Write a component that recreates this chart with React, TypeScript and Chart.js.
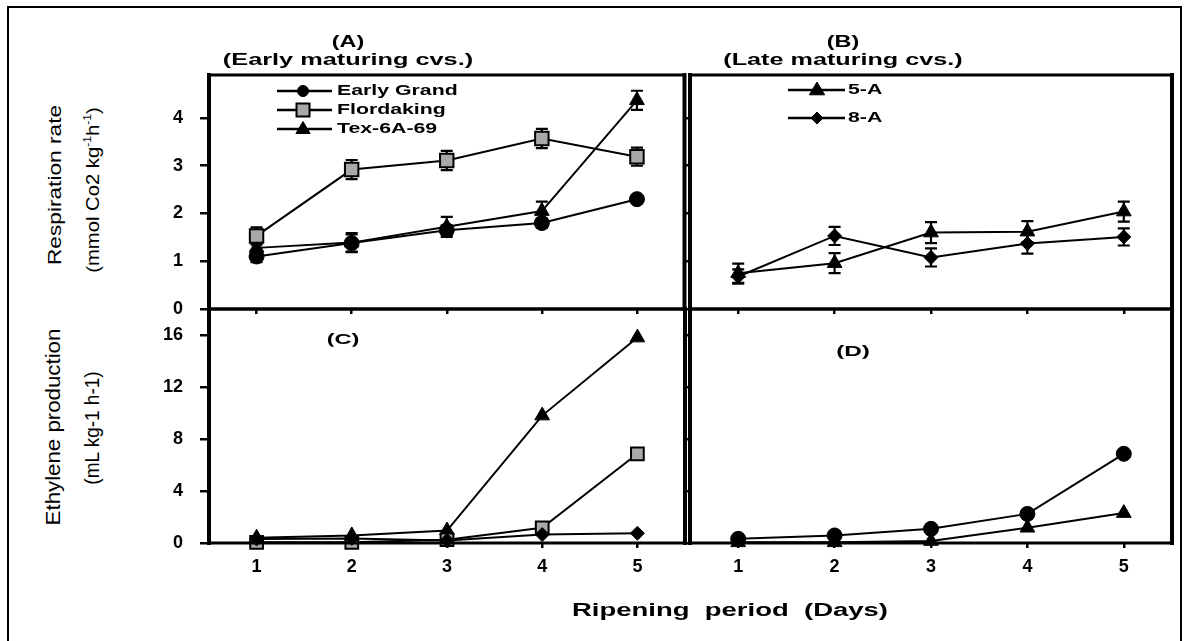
import React, { useEffect, useLayoutEffect, useRef } from 'react';
import { Chart, registerables } from 'chart.js';

Chart.register(...registerables);

const FONT = "'Liberation Sans', Arial, Helvetica, sans-serif";

// ---------- data ----------
const days = [1, 2, 3, 4, 5];
const respTicks = [0, 1, 2, 3, 4];
const ethTicks = [0, 4, 8, 12, 16];

// (A) respiration, early maturing cultivars
const respEarlyGrand = [1.1, 1.38, 1.65, 1.8, 2.3];
const respEarlyGrandErr = [0.12, 0.18, 0.1, 0.1, 0.08];
const respFlordaking = [1.53, 2.92, 3.11, 3.57, 3.19];
const respFlordakingErr = [0.18, 0.2, 0.2, 0.2, 0.19];
const respTex = [1.28, 1.39, 1.72, 2.05, 4.37];
const respTexErr = [0.1, 0.2, 0.21, 0.2, 0.2];

// (B) respiration, late maturing cultivars
const resp5A = [0.75, 0.96, 1.6, 1.62, 2.04];
const resp5AErr = [0.2, 0.21, 0.22, 0.22, 0.21];
const resp8A = [0.68, 1.53, 1.08, 1.37, 1.51];
const resp8AErr = [0.15, 0.19, 0.19, 0.21, 0.18];

// (C) ethylene, early maturing cultivars
const ethEarlyGrand = [0.3, 0.35, 0.2, 0.65, 0.75];
const ethFlordaking = [0.05, 0.05, 0.25, 1.17, 6.86];
const ethTex = [0.4, 0.58, 0.96, 9.8, 15.8];

// (D) ethylene, late maturing cultivars
const eth5A = [0.05, 0.05, 0.15, 1.17, 2.3];
const eth8A = [0.32, 0.58, 1.09, 2.24, 6.86];

const GRAY = '#a9a9a9';

function series(label: string, values: number[], errors: number[] | null, style: string, r: number, fill: string) {
  return {
    label,
    data: days.map((d, i) => ({ x: d, y: values[i] })),
    errors,
    pointStyle: style,
    pointRadius: r,
    pointBackgroundColor: fill,
    pointBorderColor: '#000',
    pointBorderWidth: style === 'rect' ? 2 : 1,
    borderColor: '#000',
    borderWidth: 2,
    fill: false,
    tension: 0,
    clip: false,
  };
}

type LegendSpec = { lineStart: number; lineEnd: number; marker: number; text: number; rows: number[]; sizes: number[] };

type PanelSpec = {
  left: number; top: number; right: number; bottom: number;
  yMax: number; yTicks: number[]; yLabels: boolean; xLabels: boolean;
  datasets: any[]; legend?: LegendSpec;
};

const panels: PanelSpec[] = [
  {
    left: 209, top: 75, right: 686, bottom: 309, yMax: 4.9, yTicks: respTicks, yLabels: true, xLabels: false,
    datasets: [
      series('Early Grand', respEarlyGrand, respEarlyGrandErr, 'circle', 7.5, '#000'),
      series('Flordaking', respFlordaking, respFlordakingErr, 'rect', 9.5, GRAY),
      series('Tex-6A-69', respTex, respTexErr, 'triangle', 8.5, '#000'),
    ],
    legend: { lineStart: 68, lineEnd: 123, marker: 94, text: 128, rows: [16, 35, 54], sizes: [5.5, 6.5, 7.5] },
  },
  {
    left: 690, top: 75, right: 1172, bottom: 309, yMax: 4.9, yTicks: respTicks, yLabels: false, xLabels: false,
    datasets: [
      series('5-A', resp5A, resp5AErr, 'triangle', 8.5, '#000'),
      series('8-A', resp8A, resp8AErr, 'rectRot', 7, '#000'),
    ],
    legend: { lineStart: 98, lineEnd: 155, marker: 127, text: 158, rows: [15, 43], sizes: [8, 6] },
  },
  {
    left: 209, top: 309, right: 686, bottom: 543, yMax: 18, yTicks: ethTicks, yLabels: true, xLabels: true,
    datasets: [
      series('Early Grand', ethEarlyGrand, null, 'rectRot', 7, '#000'),
      series('Flordaking', ethFlordaking, null, 'rect', 9, GRAY),
      series('Tex-6A-69', ethTex, null, 'triangle', 8.5, '#000'),
    ],
  },
  {
    left: 690, top: 309, right: 1172, bottom: 543, yMax: 18, yTicks: ethTicks, yLabels: false, xLabels: true,
    datasets: [
      series('8-A', eth8A, null, 'circle', 7.5, '#000'),
      series('5-A', eth5A, null, 'triangle', 8.5, '#000'),
    ],
  },
];

function geom(p: PanelSpec) {
  const yW = p.yLabels ? 80 : 12;
  const padT = 32;
  const padR = 10;
  const xH = p.xLabels ? 60 : 34;
  return {
    yW, padT, padR, xH,
    canvasLeft: p.left - yW,
    canvasTop: p.top - padT,
    width: yW + (p.right - p.left) + padR,
    height: padT + (p.bottom - p.top) + xH,
  };
}

function markerPath(ctx: CanvasRenderingContext2D, style: string, x: number, y: number, r: number) {
  ctx.beginPath();
  if (style === 'circle') {
    ctx.arc(x, y, r, 0, Math.PI * 2);
  } else if (style === 'rect') {
    ctx.rect(x - r, y - r, 2 * r, 2 * r);
  } else if (style === 'triangle') {
    ctx.moveTo(x, y - r);
    ctx.lineTo(x + r * 0.95, y + r * 0.6);
    ctx.lineTo(x - r * 0.95, y + r * 0.6);
    ctx.closePath();
  } else {
    ctx.moveTo(x, y - r);
    ctx.lineTo(x + r, y);
    ctx.lineTo(x, y + r);
    ctx.lineTo(x - r, y);
    ctx.closePath();
  }
}

const errorBarsPlugin = {
  id: 'errorBars',
  beforeDatasetsDraw(chart: any) {
    const ctx = chart.ctx as CanvasRenderingContext2D;
    const xs = chart.scales.x;
    const ys = chart.scales.y;
    chart.data.datasets.forEach((ds: any) => {
      if (!ds.errors) return;
      ctx.save();
      ctx.strokeStyle = '#000';
      ctx.lineWidth = 2.2;
      ds.data.forEach((pt: any, i: number) => {
        const e = ds.errors[i];
        if (!e) return;
        const px = xs.getPixelForValue(pt.x);
        const y1 = ys.getPixelForValue(pt.y + e);
        const y2 = ys.getPixelForValue(pt.y - e);
        ctx.beginPath();
        ctx.moveTo(px, y1); ctx.lineTo(px, y2);
        ctx.moveTo(px - 6, y1); ctx.lineTo(px + 6, y1);
        ctx.moveTo(px - 6, y2); ctx.lineTo(px + 6, y2);
        ctx.stroke();
      });
      ctx.restore();
    });
  },
};

const framePlugin = {
  id: 'panelFrame',
  afterDraw(chart: any) {
    const ctx = chart.ctx as CanvasRenderingContext2D;
    const a = chart.chartArea;
    ctx.save();
    ctx.strokeStyle = '#000';
    ctx.lineCap = 'square';
    ctx.lineWidth = 3;
    ctx.beginPath();
    ctx.moveTo(a.left, a.top); ctx.lineTo(a.right, a.top);
    ctx.moveTo(a.left, a.bottom); ctx.lineTo(a.right, a.bottom);
    ctx.stroke();
    ctx.lineWidth = 4;
    ctx.beginPath();
    ctx.moveTo(a.left, a.top); ctx.lineTo(a.left, a.bottom);
    ctx.moveTo(a.right, a.top); ctx.lineTo(a.right, a.bottom);
    ctx.stroke();
    ctx.restore();
  },
};

function legendPlugin(spec?: LegendSpec) {
  return {
    id: 'panelLegend',
    afterDraw(chart: any) {
      if (!spec) return;
      const ctx = chart.ctx as CanvasRenderingContext2D;
      const a = chart.chartArea;
      chart.data.datasets.forEach((ds: any, i: number) => {
        const y = a.top + spec.rows[i];
        ctx.save();
        ctx.strokeStyle = '#000';
        ctx.lineWidth = 2.5;
        ctx.beginPath();
        ctx.moveTo(a.left + spec.lineStart, y);
        ctx.lineTo(a.left + spec.lineEnd, y);
        ctx.stroke();
        markerPath(ctx, ds.pointStyle, a.left + spec.marker, y, spec.sizes[i]);
        ctx.fillStyle = ds.pointBackgroundColor;
        ctx.fill();
        ctx.lineWidth = ds.pointStyle === 'rect' ? 2 : 1;
        ctx.stroke();
        ctx.fillStyle = '#000';
        ctx.font = `bold 14px ${FONT}`;
        ctx.textBaseline = 'middle';
        ctx.textAlign = 'left';
        ctx.translate(a.left + spec.text, y);
        ctx.scale(1.52, 1);
        ctx.fillText(ds.label, 0, 0);
        ctx.restore();
      });
    },
  };
}

function buildConfig(p: PanelSpec): any {
  const g = geom(p);
  const tickFont = { family: FONT, size: 18, weight: 'bold' as const };
  return {
    type: 'line',
    data: { datasets: p.datasets },
    options: {
      animation: false,
      responsive: false,
      maintainAspectRatio: false,
      events: [],
      layout: { padding: { left: 0, top: g.padT, right: g.padR, bottom: 0 } },
      plugins: { legend: { display: false }, tooltip: { enabled: false }, title: { display: false } },
      scales: {
        x: {
          type: 'linear',
          min: 0.5,
          max: 5.5,
          afterBuildTicks: (s: any) => { s.ticks = days.map((v) => ({ value: v })); },
          afterFit: (s: any) => { s.height = g.xH; },
          grid: { drawOnChartArea: false, drawTicks: true, tickLength: 5, color: '#000', lineWidth: 2.5 },
          border: { display: false },
          ticks: { display: p.xLabels, font: tickFont, color: '#000', padding: 8, maxRotation: 0 },
        },
        y: {
          type: 'linear',
          min: 0,
          max: p.yMax,
          afterBuildTicks: (s: any) => { s.ticks = p.yTicks.map((v) => ({ value: v })); },
          afterFit: (s: any) => { s.width = g.yW; },
          grid: { drawOnChartArea: false, drawTicks: true, tickLength: p.yLabels ? 9 : 7, color: '#000', lineWidth: 2.5 },
          border: { display: false },
          ticks: { display: p.yLabels, font: tickFont, color: '#000', padding: 17 },
        },
      },
    },
    plugins: [errorBarsPlugin, framePlugin, legendPlugin(p.legend)],
  };
}

function FitText(props: { cx: number; cy: number; w: number; size: number; bold?: boolean; rotate?: number; children: React.ReactNode }) {
  const ref = useRef<HTMLSpanElement>(null);
  useLayoutEffect(() => {
    const el = ref.current;
    if (!el) return;
    const nat = el.offsetWidth || 1;
    const s = props.w / nat;
    el.style.transform = `translate(-50%, -50%) rotate(${props.rotate || 0}deg) scaleX(${s})`;
  }, []);
  return (
    <span
      ref={ref}
      style={{
        position: 'absolute',
        left: props.cx,
        top: props.cy,
        fontFamily: FONT,
        fontSize: props.size,
        fontWeight: props.bold ? 700 : 400,
        whiteSpace: 'pre',
        lineHeight: 1,
        color: '#000',
        transform: `translate(-50%, -50%) rotate(${props.rotate || 0}deg)`,
      }}
    >
      {props.children}
    </span>
  );
}

const supStyle: React.CSSProperties = { fontSize: '0.6em', verticalAlign: 'super', lineHeight: 0 };

export default function App() {
  const r0 = useRef<HTMLCanvasElement>(null);
  const r1 = useRef<HTMLCanvasElement>(null);
  const r2 = useRef<HTMLCanvasElement>(null);
  const r3 = useRef<HTMLCanvasElement>(null);
  const refs = [r0, r1, r2, r3];

  useEffect(() => {
    const charts = panels.map((p, i) => new Chart(refs[i].current as HTMLCanvasElement, buildConfig(p)));
    return () => charts.forEach((c) => c.destroy());
  }, []);

  return (
    <div style={{ position: 'absolute', left: 0, top: 0, width: 1188, height: 641, background: '#fff', overflow: 'hidden' }}>
      <div style={{ position: 'absolute', left: 7, top: 6, width: 1175, height: 650, border: '2px solid #000', boxSizing: 'border-box' }} />
      {panels.map((p, i) => {
        const g = geom(p);
        return (
          <canvas
            key={i}
            ref={refs[i]}
            width={g.width}
            height={g.height}
            style={{ position: 'absolute', left: g.canvasLeft, top: g.canvasTop, width: g.width, height: g.height }}
          />
        );
      })}

      <FitText cx={348} cy={41} w={33} size={17} bold>(A)</FitText>
      <FitText cx={348} cy={59} w={250} size={17} bold>(Early maturing cvs.)</FitText>
      <FitText cx={843} cy={41} w={33} size={17} bold>(B)</FitText>
      <FitText cx={843} cy={59} w={240} size={17} bold>(Late maturing cvs.)</FitText>
      <FitText cx={343} cy={338} w={33} size={15} bold>(C)</FitText>
      <FitText cx={853} cy={350} w={34} size={15} bold>(D)</FitText>

      <FitText cx={54} cy={185} w={160} size={19} rotate={-90}>Respiration rate</FitText>
      <FitText cx={92} cy={190} w={165} size={19} rotate={-90}>
        (mmol Co2 kg<span style={supStyle}>-1</span>h<span style={supStyle}>-1</span>)
      </FitText>
      <FitText cx={53} cy={427} w={197} size={20} rotate={-90}>Ethylene production</FitText>
      <FitText cx={92} cy={428} w={113} size={20} rotate={-90}>(mL kg-1 h-1)</FitText>

      <FitText cx={730} cy={610} w={316} size={18} bold>Ripening  period  (Days)</FitText>
    </div>
  );
}
